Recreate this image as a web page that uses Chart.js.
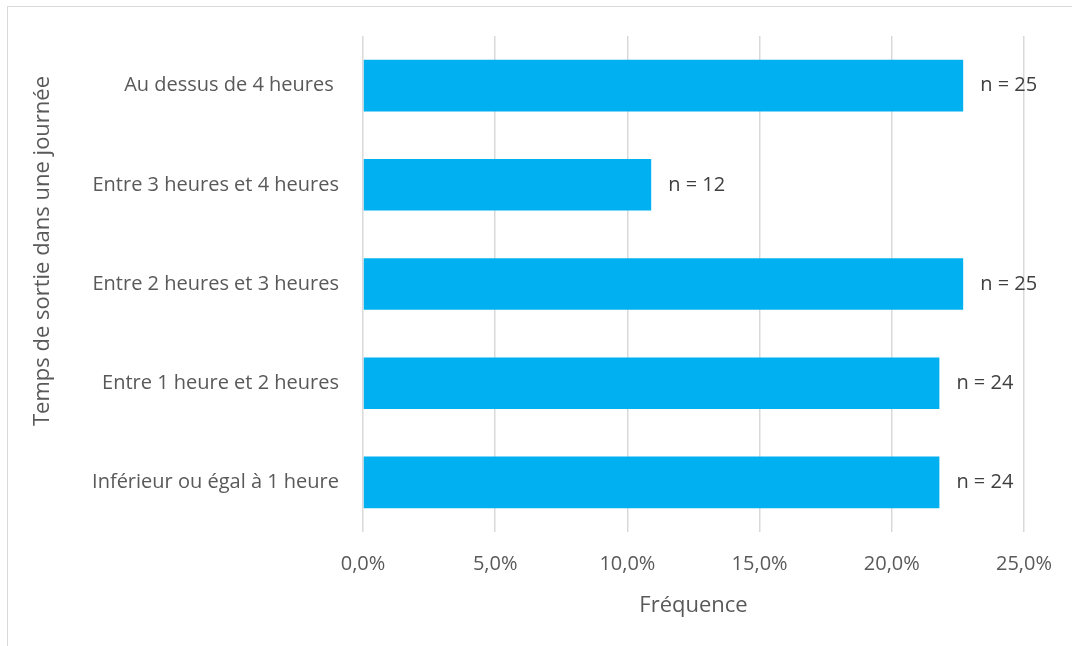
<!DOCTYPE html>
<html>
<head>
<meta charset="utf-8">
<script src="https://cdn.jsdelivr.net/npm/chart.js@4"></script>
<style>
  html, body { margin: 0; padding: 0; background: #fff; }
  canvas { display: block; }
</style>
</head>
<body>
<canvas id="chart" width="1072" height="646"></canvas>
<script>
// categories, top to bottom
const categories = [
  'Au dessus de 4 heures ',
  'Entre 3 heures et 4 heures',
  'Entre 2 heures et 3 heures',
  'Entre 1 heure et 2 heures',
  'Inférieur ou égal à 1 heure',
];
// frequency in percent
const frequencies = [22.7, 10.9, 22.7, 21.8, 21.8];
// respondents per bar
const counts = [25, 12, 25, 24, 24];
const xTicks = [0, 5, 10, 15, 20, 25];

const yTitle = 'Temps de sortie dans une journée';
const xTitle = 'Fréquence';

const textColor = '#595959';
const fontFamily = "'Open Sans', 'Noto Sans', sans-serif";

// light frame around the chart
const framePlugin = {
  id: 'frame',
  beforeDraw(chart) {
    const ctx = chart.ctx;
    ctx.save();
    ctx.fillStyle = '#fff';
    ctx.fillRect(0, 0, chart.width, chart.height);
    ctx.strokeStyle = '#d9d9d9';
    ctx.lineWidth = 1;
    ctx.strokeRect(7.5, 6.5, 1200, 800);
    ctx.restore();
  },
};

// vertical axis title, centred a bit higher than the plot like in the original
const yTitlePlugin = {
  id: 'yTitle',
  afterDraw(chart) {
    const ctx = chart.ctx;
    ctx.save();
    ctx.translate(43, 251);
    ctx.rotate(-Math.PI / 2);
    ctx.fillStyle = textColor;
    ctx.font = '22px ' + fontFamily;
    ctx.textAlign = 'center';
    ctx.textBaseline = 'middle';
    ctx.fillText(yTitle, 0, 0);
    ctx.restore();
  },
};

// "n = xx" labels next to each bar
const countLabels = {
  id: 'countLabels',
  afterDatasetsDraw(chart) {
    const ctx = chart.ctx;
    const meta = chart.getDatasetMeta(0);
    ctx.save();
    ctx.fillStyle = '#404040';
    ctx.font = '20px ' + fontFamily;
    ctx.textBaseline = 'middle';
    ctx.textAlign = 'left';
    meta.data.forEach((bar, i) => {
      ctx.fillText('n = ' + counts[i], bar.x + 17, bar.y);
    });
    ctx.restore();
  },
};

new Chart(document.getElementById('chart'), {
  type: 'bar',
  data: {
    labels: categories,
    datasets: [{
      data: frequencies,
      backgroundColor: '#00b0f0',
      borderWidth: 0,
      barPercentage: 0.52,
      categoryPercentage: 1,
    }],
  },
  options: {
    indexAxis: 'y',
    responsive: false,
    animation: false,
    devicePixelRatio: 1,
    layout: { padding: { left: 8, top: 36, right: 47, bottom: 27 } },
    plugins: {
      legend: { display: false },
      tooltip: { enabled: false },
    },
    scales: {
      x: {
        min: 0,
        max: 25,
        afterBuildTicks: (scale) => { scale.ticks = xTicks.map(v => ({ value: v })); },
        afterFit: (scale) => { scale.height = 646 - 532 - 27; },
        ticks: {
          color: textColor,
          font: { family: fontFamily, size: 20 },
          padding: 20,
          callback: (v) => v.toFixed(1).replace('.', ',') + '%',
        },
        grid: { color: '#d9d9d9', lineWidth: 1.5, drawTicks: false },
        border: { display: false },
        title: {
          display: true,
          text: xTitle,
          color: textColor,
          font: { family: fontFamily, size: 22 },
          padding: { top: 4, bottom: 0 },
        },
      },
      y: {
        afterFit: (scale) => { scale.width = 363 - 8; },
        ticks: {
          color: textColor,
          font: { family: fontFamily, size: 20 },
          padding: 16,
        },
        grid: { display: false },
        border: { display: false },
      },
    },
  },
  plugins: [framePlugin, countLabels, yTitlePlugin],
});
</script>
</body>
</html>
